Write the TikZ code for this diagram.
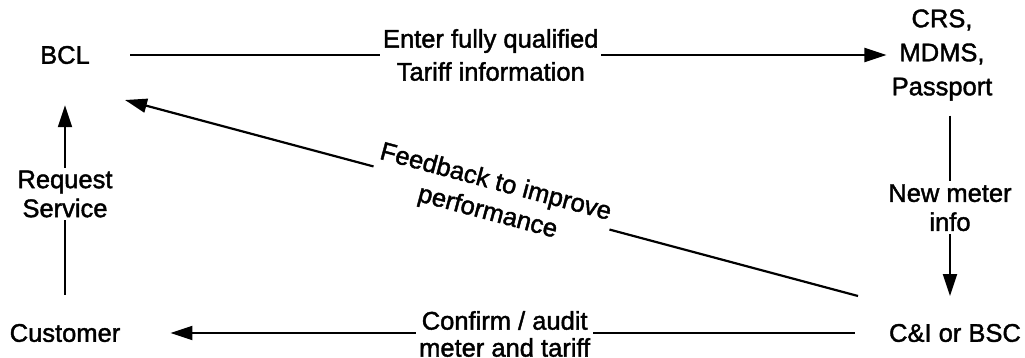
\documentclass[tikz,border=0pt]{standalone}
\usepackage{fontspec}
\setmainfont{Liberation Sans}[RawFeature={embolden=1.6}]
\usetikzlibrary{arrows.meta}
\begin{document}
\begin{tikzpicture}[x=1pt,y=-1pt,
  every node/.style={font=\fontsize{25.5}{29}\selectfont, inner sep=0pt, align=center},
  ent/.style={},
  lab/.style={fill=white, inner sep=3pt},
  arr/.style={line width=2.2pt, -{Triangle[length=22pt,width=14pt]}}]
\useasboundingbox (0,0) rectangle (1025,358);
\node[ent] (BCL) at (65,55) {BCL};
\node[ent, font=\fontsize{25.5}{34}\selectfont] (CRS) at (942,55) {CRS,\\MDMS,\\Passport};
\node[ent] (CI) at (955,333) {C\&I or BSC};
\node[ent] (Cust) at (65,333) {Customer};
\coordinate (fbS) at (858,296);
\coordinate (fbE) at (125,100);
% top
\draw[arr, shorten <=40pt, shorten >=5pt] (BCL) -- node[lab, font=\fontsize{25.5}{33}\selectfont] {Enter fully qualified\\Tariff information} (CRS);
% right vertical
\draw[arr] (CRS.south -| 950,0) ++(0,15) coordinate (rvS) -- node[lab, pos=0.51] {New meter\\info} (950,296) coordinate (rvE);
% bottom
\draw[arr, shorten <=34pt, shorten >=50pt] (CI) -- node[lab, yshift=-1pt, font=\fontsize{25.5}{27}\selectfont] {Confirm / audit\\meter and tariff} (Cust);
% left vertical
\draw[arr, shorten <=29pt, shorten >=41pt] (Cust) -- node[lab] {Request\\Service} (BCL);
% diagonal
\draw[arr] (fbS) -- node[lab, sloped, font=\fontsize{25.5}{31}\selectfont] {Feedback to improve\\performance} (fbE);
\end{tikzpicture}
\end{document}
